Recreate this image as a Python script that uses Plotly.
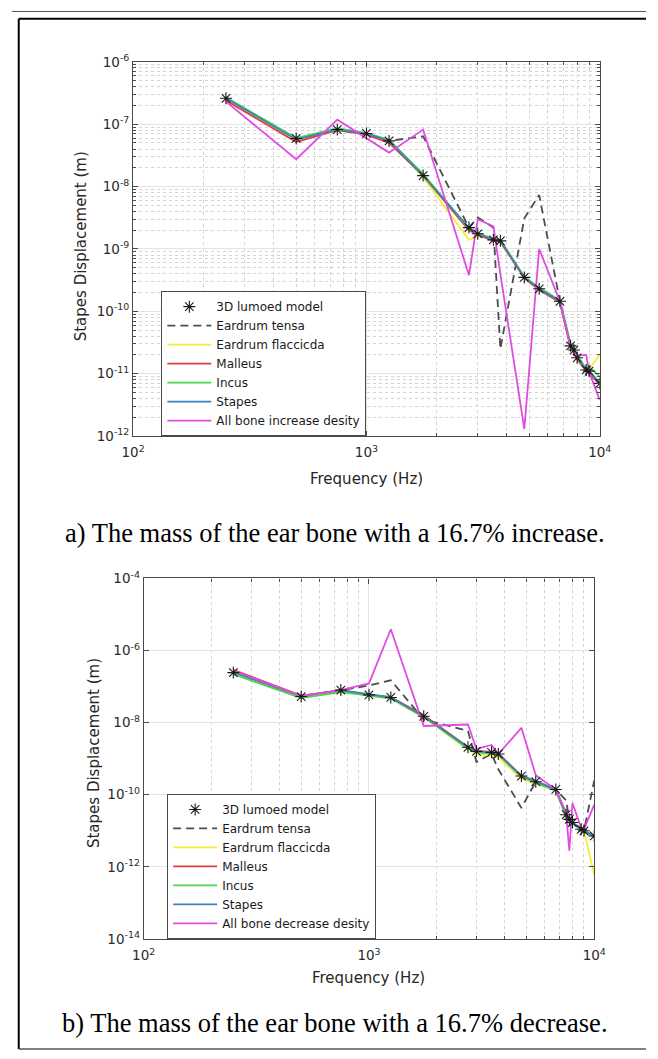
import plotly.graph_objects as go

W, H = 658, 1059

# Frequency points (Hz) shared by every series
freq_hz = [250, 500, 750, 1000, 1250, 1750, 2750, 3000, 3500, 3750,
           4750, 5500, 6750, 7500, 7750, 8000, 8750, 9000, 10000]

# (a) bone mass +16.7 %  -- stapes displacement (m)
a_lumped = [2.6e-7, 5.9e-8, 8.2e-8, 7.1e-8, 5.4e-8, 1.5e-8, 2.2e-9, 1.75e-9, 1.4e-9, 1.35e-9,
            3.5e-10, 2.3e-10, 1.45e-10, 2.8e-11, 2.4e-11, 1.8e-11, 1.15e-11, 1.1e-11, 7.0e-12]
a_tensa = [2.6e-7, 5.9e-8, 8.0e-8, 7.0e-8, 5.4e-8, 6.4e-8, 2.2e-9, 3.2e-9, 2.2e-9, 2.5e-11,
           3.1e-9, 7.3e-9, 1.45e-10, 2.8e-11, 2.4e-11, 1.8e-11, 1.15e-11, 1.1e-11, 7.0e-12]
a_flaccida = [2.5e-7, 5.6e-8, 8.4e-8, 7.0e-8, 5.6e-8, 1.4e-8, 1.4e-9, 1.6e-9, 1.5e-9, 1.4e-9,
              3.6e-10, 2.3e-10, 1.4e-10, 2.6e-11, 2.3e-11, 1.9e-11, 1.2e-11, 1.2e-11, 2.0e-11]
a_malleus = [2.4e-7, 5.2e-8, 8.0e-8, 6.8e-8, 5.0e-8, 1.5e-8, 2.0e-9, 1.7e-9, 1.35e-9, 1.3e-9,
             3.4e-10, 2.2e-10, 1.4e-10, 2.6e-11, 2.2e-11, 1.7e-11, 1.1e-11, 1.0e-11, 6.8e-12]
a_incus = [2.7e-7, 6.0e-8, 8.6e-8, 7.2e-8, 5.6e-8, 1.6e-8, 2.1e-9, 1.8e-9, 1.45e-9, 1.4e-9,
           3.6e-10, 2.4e-10, 1.5e-10, 3.0e-11, 2.6e-11, 2.0e-11, 1.2e-11, 1.3e-11, 9.0e-12]
a_stapes = [2.6e-7, 5.7e-8, 8.2e-8, 7.1e-8, 5.4e-8, 1.5e-8, 2.2e-9, 1.75e-9, 1.4e-9, 1.35e-9,
            3.5e-10, 2.3e-10, 1.45e-10, 2.8e-11, 2.4e-11, 1.8e-11, 1.15e-11, 1.1e-11, 7.0e-12]
a_allbone = [2.3e-7, 2.75e-8, 1.18e-7, 5.9e-8, 3.5e-8, 8.2e-8, 3.8e-10, 3.0e-9, 2.3e-9, 4.0e-10,
             1.3e-12, 1.0e-9, 1.44e-10, 2.65e-11, 2.2e-11, 1.95e-11, 2.0e-11, 1.07e-11, 3.8e-12]

# (b) bone mass -16.7 %
b_lumped = [2.45e-7, 5.3e-8, 8.0e-8, 5.9e-8, 5.0e-8, 1.5e-8, 2.07e-9, 1.6e-9, 1.5e-9, 1.35e-9,
            3.3e-10, 2.3e-10, 1.4e-10, 2.8e-11, 2.07e-11, 1.7e-11, 1.1e-11, 1.0e-11, 7.2e-12]
b_tensa = [2.45e-7, 5.3e-8, 8.0e-8, 1.07e-7, 1.5e-7, 1.23e-8, 5.9e-9, 8.1e-10, 1.35e-9, 5.1e-10,
           4.3e-11, 2.3e-10, 1.4e-10, 7.0e-11, 2.07e-11, 1.7e-11, 1.1e-11, 1.0e-11, 2.5e-10]
b_flaccida = [2.5e-7, 5.4e-8, 7.6e-8, 5.6e-8, 4.6e-8, 1.4e-8, 1.8e-9, 1.3e-9, 1.2e-9, 1.1e-9,
              2.8e-10, 2.0e-10, 1.3e-10, 2.6e-11, 2.0e-11, 1.6e-11, 1.1e-11, 1.0e-11, 6.0e-13]
b_malleus = [2.9e-7, 5.6e-8, 7.9e-8, 6.0e-8, 5.1e-8, 1.6e-8, 2.1e-9, 1.65e-9, 1.55e-9, 1.4e-9,
             3.4e-10, 2.4e-10, 1.4e-10, 2.9e-11, 2.1e-11, 1.7e-11, 1.1e-11, 1.0e-11, 7.0e-12]
b_incus = [2.2e-7, 4.8e-8, 7.0e-8, 5.6e-8, 4.7e-8, 1.45e-8, 1.9e-9, 1.5e-9, 1.4e-9, 1.3e-9,
           3.1e-10, 2.2e-10, 1.3e-10, 2.5e-11, 1.9e-11, 1.6e-11, 1.05e-11, 1.0e-11, 6.5e-12]
b_stapes = [2.5e-7, 5.4e-8, 8.0e-8, 6.0e-8, 5.0e-8, 1.5e-8, 2.07e-9, 1.6e-9, 1.5e-9, 1.35e-9,
            3.3e-10, 2.3e-10, 1.4e-10, 2.8e-11, 2.07e-11, 1.7e-11, 1.1e-11, 1.0e-11, 7.2e-12]
b_allbone = [2.8e-7, 5.5e-8, 8.0e-8, 1.23e-7, 3.9e-6, 8.1e-9, 8.9e-9, 1.86e-9, 2.4e-9, 1.35e-9,
             7.2e-9, 3.5e-10, 1.4e-10, 3.2e-11, 2.8e-12, 5.9e-11, 1.2e-11, 1.1e-11, 5.3e-11]

series_names = ["Eardrum tensa", "Eardrum flaccicda", "Malleus", "Incus", "Stapes"]
lumped_name = "3D lumoed model"

FONT = "DejaVu Sans, Verdana, sans-serif"
SERIF = "Liberation Serif, Times New Roman, serif"
AXIS_COLOR = "#4a4a4a"


def px(xp):
    return xp / W


def py(yp):
    return 1 - yp / H


fig = go.Figure()


def add_panel(xa, ya, legend, data, allbone_name):
    lumped, tensa, flacc, mall, incus, stapes, allbone = data
    styles = [
        (tensa, series_names[0], dict(color="#4d4d4d", width=1.8, dash="8px,5px")),
        (flacc, series_names[1], dict(color="#f2ee3a", width=1.8)),
        (mall, series_names[2], dict(color="#e03c3c", width=1.8)),
        (incus, series_names[3], dict(color="#48d848", width=1.8)),
        (stapes, series_names[4], dict(color="#3f82bf", width=1.8)),
        (allbone, allbone_name, dict(color="#e04ce0", width=1.8)),
    ]
    for rank, (vals, name, line) in enumerate(styles, start=2):
        fig.add_trace(go.Scatter(
            x=freq_hz, y=vals, mode="lines", name=name, line=line,
            xaxis=xa, yaxis=ya, legend=legend, legendrank=rank))
    fig.add_trace(go.Scatter(
        x=freq_hz, y=lumped, mode="markers", name=lumped_name,
        marker=dict(symbol="asterisk-open", size=10, color="#1a1a1a",
                    line=dict(width=1.1, color="#1a1a1a")),
        xaxis=xa, yaxis=ya, legend=legend, legendrank=1))


add_panel("x", "y", "legend",
          (a_lumped, a_tensa, a_flaccida, a_malleus, a_incus, a_stapes, a_allbone),
          "All bone increase desity")
add_panel("x2", "y2", "legend2",
          (b_lumped, b_tensa, b_flaccida, b_malleus, b_incus, b_stapes, b_allbone),
          "All bone decrease desity")


def minor_vals(lo, hi):
    out = []
    for e in range(lo, hi):
        for k in range(2, 10):
            out.append(k * 10.0 ** e)
    return out


def sup(e):
    return "10<sup>%d</sup>" % e


tickfont = dict(family=FONT, size=13.5, color="#2b2b2b")
common = dict(type="log", showline=True, linecolor=AXIS_COLOR, linewidth=1.2,
              mirror="allticks", ticks="inside", ticklen=5, tickcolor=AXIS_COLOR,
              tickwidth=1, zeroline=False, tickfont=tickfont,
              showgrid=True, gridcolor="#e4e4e4", gridwidth=1)
minor_grid = dict(ticks="inside", ticklen=3, tickcolor=AXIS_COLOR,
                  showgrid=True, gridcolor="#d4d4d4", griddash="dot", gridwidth=1)

x_major = [100, 1000, 10000]
x_labels = [sup(e) for e in (2, 3, 4)]
x_minor = dict(minor_grid, tickvals=minor_vals(2, 4))

# panel (a) axes
fig.update_layout(
    xaxis=dict(common, domain=[px(125.7), px(610)], anchor="y", range=[2, 4],
               tickvals=x_major, ticktext=x_labels, minor=x_minor,
               ticklabelstandoff=4),
    yaxis=dict(common, domain=[py(433.5), py(52.7)], anchor="x", range=[-12, -6],
               tickvals=[10.0 ** e for e in range(-12, -5)],
               ticktext=[sup(e) for e in range(-12, -5)],
               minor=dict(minor_grid, tickvals=minor_vals(-12, -6))),
    # panel (b) axes
    xaxis2=dict(common, domain=[px(136.7), px(604.3)], anchor="y2", range=[2, 4],
                tickvals=x_major, ticktext=x_labels, minor=x_minor,
                ticklabelstandoff=4),
    yaxis2=dict(common, domain=[py(945), py(578.3)], anchor="x2", range=[-14, -4],
                tickvals=[10.0 ** e for e in range(-14, -3, 2)],
                ticktext=[sup(e) for e in range(-14, -3, 2)]),
)

legend_style = dict(bgcolor="white", bordercolor=AXIS_COLOR, borderwidth=1,
                    font=dict(family=FONT, size=12, color="#1a1a1a"),
                    xanchor="left", yanchor="bottom", itemwidth=44,
                    tracegroupgap=0, itemclick=False)
fig.update_layout(
    legend=dict(legend_style, x=px(155), y=py(433.5)),
    legend2=dict(legend_style, x=px(161), y=py(945)),
)

title_font = dict(family=FONT, size=15, color="#262626")
caption_font = dict(family=SERIF, size=26.5, color="black")
annotations = [
    dict(text="Stapes Displacement (m)", x=px(72), y=py(240), textangle=-90,
         font=title_font),
    dict(text="Frequency (Hz)", x=px(367.8), y=py(477), font=title_font),
    dict(text="Stapes Displacement (m)", x=px(85), y=py(756), textangle=-90,
         font=title_font),
    dict(text="Frequency (Hz)", x=px(370.5), y=py(985), font=title_font),
    dict(text="a) The mass of the ear bone with a 16.7% increase.", x=px(335), y=py(532),
         font=caption_font),
    dict(text="b) The mass of the ear bone with a 16.7% decrease.", x=px(335), y=py(1031),
         font=caption_font),
]
for a in annotations:
    a.update(xref="paper", yref="paper", xanchor="center", yanchor="middle",
             showarrow=False)

shapes = [
    dict(type="line", x0=0, x1=1, y0=py(1.5), y1=py(1.5),
         line=dict(color="#555555", width=1)),
    dict(type="line", x0=px(7), x1=1, y0=py(9), y1=py(9),
         line=dict(color="black", width=2)),
    dict(type="line", x0=px(7), x1=px(7), y0=py(9), y1=py(1057),
         line=dict(color="black", width=2)),
    dict(type="line", x0=px(7), x1=1, y0=py(1057), y1=py(1057),
         line=dict(color="#555555", width=1.5)),
]
for s in shapes:
    s.update(xref="paper", yref="paper")

fig.update_layout(
    width=W, height=H, margin=dict(l=0, r=0, t=0, b=0),
    paper_bgcolor="white", plot_bgcolor="white",
    annotations=annotations, shapes=shapes,
)

fig.write_html("out.html")
